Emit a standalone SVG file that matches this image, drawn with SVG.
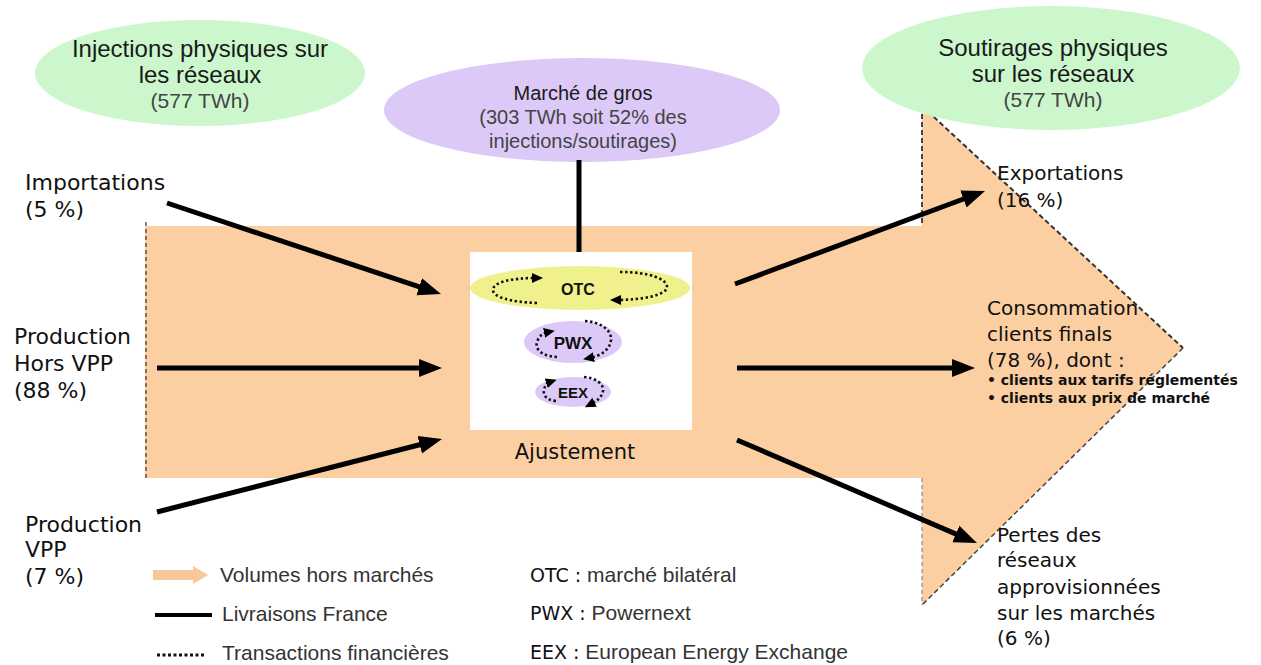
<svg xmlns="http://www.w3.org/2000/svg" width="1261" height="665" viewBox="0 0 1261 665">
<style>
.lbl{font-family:"DejaVu Sans",Verdana,sans-serif;fill:#111}
.ell{font-family:"Liberation Sans",Arial,sans-serif;fill:#1a1a1a;text-anchor:middle}
.lite{fill:#444}
.leg{font-family:"Liberation Sans",Arial,sans-serif;font-size:21px;fill:#333}
.ab{font-family:"DejaVu Sans",Verdana,sans-serif;font-size:19px;fill:#111}
.conn{stroke:#000;stroke-width:5;fill:none;marker-end:url(#ah)}
.dot{stroke:#111;stroke-width:2.6;stroke-dasharray:2.4 2.6;fill:none;marker-end:url(#sh)}
.bx{font-family:"Liberation Sans",Arial,sans-serif;font-weight:bold;fill:#111;text-anchor:middle}
</style>
<defs>
<marker id="ah" markerUnits="userSpaceOnUse" markerWidth="24" markerHeight="20" viewBox="0 0 24 20" refX="13" refY="10" orient="auto">
<path d="M0,1 L23,10 L0,19 Z" fill="#000"/>
</marker>
<marker id="sh" markerUnits="userSpaceOnUse" markerWidth="12" markerHeight="12" viewBox="0 0 12 12" refX="4" refY="6" orient="auto">
<path d="M0,1 L11,6 L0,11 Z" fill="#000"/>
</marker>
</defs>
<rect width="1261" height="665" fill="#fff"/>

<g id="flow">
<polygon points="145,226 922,226 922,106 1183,348 922,605 922,478 145,478" fill="#fbcfa1"/>
<line x1="146" y1="222" x2="146" y2="478" stroke="#333" stroke-width="1.2" stroke-dasharray="4 3"/>
<line x1="922" y1="106" x2="922" y2="226" stroke="#333" stroke-width="1.8" stroke-dasharray="5 3"/>
<line x1="922" y1="106" x2="1183" y2="348" stroke="#333" stroke-width="2" stroke-dasharray="5 3"/>
<line x1="1183" y1="348" x2="922" y2="605" stroke="#444" stroke-width="1.5" stroke-dasharray="5 3"/>
<line x1="922" y1="478" x2="922" y2="605" stroke="#777" stroke-width="1" stroke-dasharray="4 3"/>
</g>

<g id="injections">
<ellipse cx="200" cy="73" rx="165" ry="53" fill="#ccf7cc"/>
<text class="ell" x="200" y="57" font-size="24">Injections physiques sur</text>
<text class="ell" x="200" y="83" font-size="24">les réseaux</text>
<text class="ell lite" x="200" y="108" font-size="21">(577 TWh)</text>
</g>

<g id="marche">
<ellipse cx="582" cy="110" rx="198" ry="52" fill="#dcc9f7"/>
<text class="ell" x="583" y="100" font-size="20">Marché de gros</text>
<text class="ell lite" x="583" y="124" font-size="20">(303 TWh soit 52% des</text>
<text class="ell lite" x="583" y="148" font-size="20">injections/soutirages)</text>
</g>

<g id="soutirages">
<ellipse cx="1051" cy="68" rx="189" ry="62" fill="#ccf7cc"/>
<text class="ell" x="1053" y="56" font-size="24">Soutirages physiques</text>
<text class="ell" x="1053" y="82" font-size="24">sur les réseaux</text>
<text class="ell lite" x="1053" y="107" font-size="21">(577 TWh)</text>
</g>

<g id="ajustement">
<rect x="470" y="252" width="222" height="178" fill="#fff"/>
<ellipse cx="580" cy="288" rx="110" ry="22" fill="#f0f08c"/>
<ellipse cx="573" cy="342" rx="49" ry="21" fill="#dcc9f7"/>
<ellipse cx="573" cy="392" rx="38" ry="15" fill="#dcc9f7"/>
<text class="bx" x="578" y="295" font-size="16">OTC</text>
<text class="bx" x="573" y="349" font-size="17">PWX</text>
<text class="bx" x="573" y="398" font-size="15">EEX</text>
<path class="dot" d="M537,303 C510,302 493,297 493,290 C493,282 512,278 536,278"/>
<path class="dot" d="M620,272 C650,272 667,279 667,287 C667,295 642,300 617,300"/>
<path class="dot" d="M557,357 C540,356 535,348 537,342 C539,336 543,333 548,332"/>
<path class="dot" d="M585,321 C600,322 612,330 611,340 C610,350 600,356 590,358"/>
<path class="dot" d="M556,401 C546,400 543,395 544,390 C545,385 547,383 550,382"/>
<path class="dot" d="M584,377 C596,378 604,384 603,391 C602,397 597,401 591,404"/>
<text class="lbl" x="575" y="459" font-size="21" text-anchor="middle">Ajustement</text>
</g>

<g id="importations">
<text class="lbl" x="25" y="190" font-size="22">Importations</text>
<text class="lbl" x="25" y="217" font-size="22">(5 %)</text>
</g>
<g id="production-hors-vpp">
<text class="lbl" x="14" y="344" font-size="22">Production</text>
<text class="lbl" x="14" y="371" font-size="22">Hors VPP</text>
<text class="lbl" x="14" y="398" font-size="22">(88 %)</text>
</g>
<g id="production-vpp">
<text class="lbl" x="25" y="532" font-size="22">Production</text>
<text class="lbl" x="25" y="557" font-size="22">VPP</text>
<text class="lbl" x="25" y="584" font-size="22">(7 %)</text>
</g>
<g id="exportations">
<text class="lbl" x="997" y="180" font-size="20">Exportations</text>
<text class="lbl" x="997" y="207" font-size="20">(16 %)</text>
</g>
<g id="consommation">
<text class="lbl" x="987" y="315" font-size="20">Consommation</text>
<text class="lbl" x="987" y="341" font-size="20">clients finals</text>
<text class="lbl" x="987" y="367" font-size="20">(78 %), dont :</text>
<text class="lbl" x="987" y="385" font-size="14" font-weight="bold">• clients aux tarifs réglementés</text>
<text class="lbl" x="987" y="403" font-size="14" font-weight="bold">• clients aux prix de marché</text>
</g>
<g id="pertes">
<text class="lbl" x="997" y="542" font-size="20">Pertes des</text>
<text class="lbl" x="997" y="567" font-size="20">réseaux</text>
<text class="lbl" x="997" y="594" font-size="20">approvisionnées</text>
<text class="lbl" x="997" y="620" font-size="20">sur les marchés</text>
<text class="lbl" x="997" y="645" font-size="20">(6 %)</text>
</g>

<g id="connectors">
<line x1="579" y1="160" x2="579" y2="252" stroke="#000" stroke-width="5"/>
<line class="conn" x1="167" y1="203" x2="431.5" y2="290.8"/>
<line class="conn" x1="157" y1="368" x2="432" y2="368"/>
<line class="conn" x1="157" y1="512" x2="432.3" y2="441.5"/>
<line class="conn" x1="735" y1="284" x2="975.6" y2="194.5"/>
<line class="conn" x1="737" y1="368" x2="965" y2="368"/>
<line class="conn" x1="737" y1="440" x2="967.8" y2="539.1"/>
</g>

<g id="legend">
<polygon points="153,570 193,570 193,566 208,575 193,584 193,580 153,580" fill="#f9c89a"/>
<text class="leg" x="220" y="582">Volumes hors marchés</text>
<line x1="155" y1="615" x2="212" y2="615" stroke="#000" stroke-width="4"/>
<text class="leg" x="222" y="621">Livraisons France</text>
<line x1="157" y1="655" x2="204" y2="655" stroke="#111" stroke-width="3" stroke-dasharray="3 2.5"/>
<text class="leg" x="222" y="660">Transactions financières</text>
<text x="530" y="582"><tspan class="ab">OTC :</tspan><tspan class="leg"> marché bilatéral</tspan></text>
<text x="530" y="620"><tspan class="ab">PWX :</tspan><tspan class="leg"> Powernext</tspan></text>
<text x="530" y="659"><tspan class="ab">EEX :</tspan><tspan class="leg"> European Energy Exchange</tspan></text>
</g>
</svg>
